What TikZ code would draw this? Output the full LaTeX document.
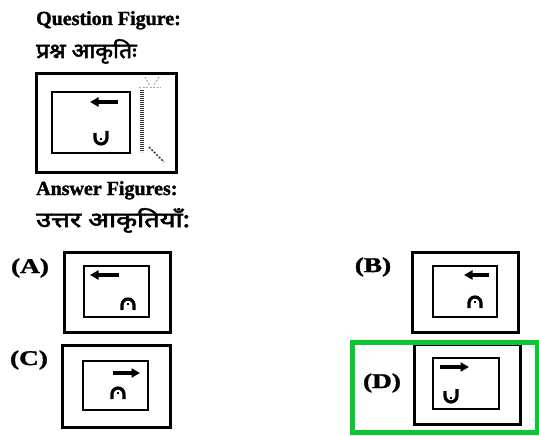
\documentclass[tikz,border=0pt]{standalone}
\usepackage{fontspec}
\setmainfont{Liberation Serif}
\newfontfamily\hindi[Script=Devanagari,FakeBold=2.5]{Noto Sans}
\newfontfamily\headfont[FakeBold=1.5]{Liberation Serif Bold}
\usetikzlibrary{arrows.meta}
\definecolor{answergreen}{RGB}{10,200,50}
\begin{document}
\begin{tikzpicture}[x=1pt,y=-1pt,
  heading/.style={font=\headfont\fontsize{20}{22}\selectfont, anchor=base west, inner sep=0pt},
  hinditext/.style={font=\hindi\fontsize{21}{24}\selectfont, anchor=base west, inner sep=0pt},
  optlabel/.style={font=\headfont\fontsize{21}{24}\selectfont, inner sep=0pt},
  outerbox/.style={line width=3pt},
  innerbox/.style={line width=2.6pt},
  dirarrow/.style={line width=3.2pt, -{Triangle[length=8.5pt,width=9pt]}},
  symline/.style={line width=3.2pt},
  faint/.style={gray!70, line width=1pt, dash pattern=on 2pt off 1.5pt},
  usym/.pic={\draw[symline] (-6,-5) -- (-6,0) arc[start angle=180,end angle=0,radius=6] -- (6,-7);
             \draw[line width=2pt] (0,0.5) -- (0,2.5);},
  nsym/.pic={\draw[symline] (-6,5) -- (-6,0) arc[start angle=180,end angle=360,radius=6] -- (6,5);
             \draw[line width=2pt] (0,-0.5) -- (0,-2.5);}
]
\useasboundingbox (0,0) rectangle (539,436);

% headings
\node[heading] (qf) at (36,25) {Question Figure:};
\node[hinditext] (qh) at (36,58) {\scalebox{1.1}[1]{प्रश्न आकृतिः}};
\node[heading] (af) at (36,195) {Answer Figures:};
\node[hinditext] (ah) at (36,227) {\scalebox{1.3}[1]{उत्तर आकृतियाँ:}};

% question figure
\draw[outerbox] (36,74) rectangle (176,172);
\draw[innerbox] (52,92) rectangle (130,153);
\coordinate (qa1) at (118,102); \coordinate (qa2) at (90,102);
\draw[dirarrow] (qa1) -- (qa2);
\pic at (101,138) {usym};
\coordinate (r1) at (142,90); \coordinate (r2) at (142,152);
\draw[line width=3.5pt, black!80, dash pattern=on 0.8pt off 1.2pt] (r1) -- (r2);
\coordinate (t1) at (139,88); \coordinate (t2) at (161,88);
\draw[faint] (t1) -- (t2);
\coordinate (t3) at (145,77); \coordinate (t4) at (150,86);
\draw[faint] (t3) -- (t4);
\coordinate (t5) at (159,77); \coordinate (t6) at (153,86);
\draw[faint] (t5) -- (t6);
\coordinate (b1) at (149,147); \coordinate (b2) at (164,162);
\draw[faint, black!75, line width=1.5pt] (b1) -- (b2);

% (A)
\node[optlabel] (la) at (30,268) {\scalebox{1.3}[1]{(A)}};
\draw[outerbox] (64,252) rectangle (170,332);
\draw[innerbox] (84,266) rectangle (149,317);
\coordinate (aa1) at (119,275); \coordinate (aa2) at (90,275);
\draw[dirarrow] (aa1) -- (aa2);
\pic at (128,305) {nsym};

% (B)
\node[optlabel] (lb) at (373,267) {\scalebox{1.3}[1]{(B)}};
\draw[outerbox] (412,252) rectangle (518,332);
\draw[innerbox] (433,266) rectangle (497,317);
\coordinate (ba1) at (489,275); \coordinate (ba2) at (464,275);
\draw[dirarrow] (ba1) -- (ba2);
\pic at (475,303) {nsym};

% (C)
\node[optlabel] (lc) at (29,360) {\scalebox{1.3}[1]{(C)}};
\draw[outerbox] (62,345) rectangle (170,427);
\draw[innerbox] (83,361) rectangle (148,410);
\coordinate (ca1) at (113,373); \coordinate (ca2) at (140,373);
\draw[dirarrow] (ca1) -- (ca2);
\pic at (118,394) {nsym};

% (D)
\node[optlabel] (ld) at (382,383) {\scalebox{1.3}[1]{(D)}};
\draw[outerbox] (414,344) rectangle (520,424);
\draw[innerbox] (433,358) rectangle (499,409);
\coordinate (da1) at (440,367); \coordinate (da2) at (469,367);
\draw[dirarrow] (da1) -- (da2);
\pic at (451,396) {usym};
\draw[answergreen, line width=5pt] (352,342) rectangle (537,432);
\end{tikzpicture}
\end{document}
